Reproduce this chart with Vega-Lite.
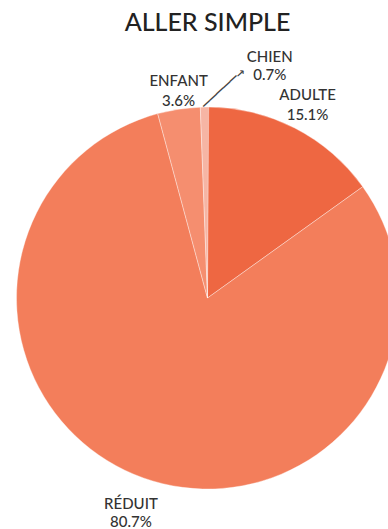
{
  "$schema": "https://vega.github.io/schema/vega-lite/v6.json",
  "autosize": "none",
  "width": 415,
  "height": 496,
  "padding": {"top": 50, "left": 0, "right": 0, "bottom": 0},
  "background": "white",
  "title": {"text": "ALLER SIMPLE", "font": "Lato", "fontSize": 25, "fontWeight": 500, "color": "#222222", "anchor": "middle", "offset": 14},
  "data": {"values": [
    {"categorie": "ADULTE", "part": 15.1, "rang": 1},
    {"categorie": "RÉDUIT", "part": 80.7, "rang": 2},
    {"categorie": "ENFANT", "part": 3.6, "rang": 3},
    {"categorie": "CHIEN", "part": 0.7, "rang": 4}
  ]},
  "transform": [
    {"stack": "part", "groupby": [], "sort": [{"field": "rang", "order": "ascending"}], "as": ["debut", "fin"]},
    {"calculate": "(datum.debut + datum.fin) / 2", "as": "milieu"},
    {"calculate": "datum.categorie + '\\n' + format(datum.part, '.1f') + '%'", "as": "etiquette"}
  ],
  "layer": [
    {
      "mark": {"type": "arc", "outerRadius": 191, "stroke": "#ffffff", "strokeWidth": 0.6, "strokeOpacity": 0.6},
      "encoding": {
        "theta": {"field": "debut", "type": "quantitative", "stack": null, "scale": {"domain": [0, 100]}},
        "theta2": {"field": "fin"},
        "color": {"field": "categorie", "type": "nominal", "legend": null,
          "scale": {"domain": ["ADULTE", "RÉDUIT", "ENFANT", "CHIEN"], "range": ["#EE6742", "#F37E5B", "#F58E6F", "#F6B5A4"]}}
      }
    },
    {
      "transform": [{"filter": "datum.categorie == 'ADULTE'"}],
      "mark": {"type": "text", "radius": 219, "dx": 0, "dy": -8, "font": "Lato", "fontSize": 15, "fontWeight": 500, "lineBreak": "\n", "lineHeight": 20, "color": "#333333", "align": "center", "baseline": "middle"},
      "encoding": {"theta": {"field": "milieu", "type": "quantitative", "stack": null}, "text": {"field": "etiquette"}}
    },
    {
      "transform": [{"filter": "datum.categorie == 'ENFANT'"}],
      "mark": {"type": "text", "radius": 219, "dx": 4, "font": "Lato", "fontSize": 15, "fontWeight": 500, "lineBreak": "\n", "lineHeight": 20, "color": "#333333", "align": "center", "baseline": "middle"},
      "encoding": {"theta": {"field": "milieu", "type": "quantitative", "stack": null}, "text": {"field": "etiquette"}}
    },
    {
      "transform": [{"filter": "datum.categorie == 'RÉDUIT'"}],
      "mark": {"type": "text", "radius": 219, "dx": -3, "font": "Lato", "fontSize": 15, "fontWeight": 500, "lineBreak": "\n", "lineHeight": 18, "color": "#333333", "align": "center", "baseline": "middle"},
      "encoding": {"theta": {"field": "milieu", "type": "quantitative", "stack": null}, "text": {"field": "etiquette"}}
    },
    {
      "transform": [{"filter": "datum.categorie == 'CHIEN'"}],
      "mark": {"type": "text", "radius": 236, "dx": 66, "dy": -5, "font": "Lato", "fontSize": 15, "fontWeight": 500, "lineBreak": "\n", "lineHeight": 18, "color": "#333333", "align": "center", "baseline": "middle"},
      "encoding": {"theta": {"field": "milieu", "type": "quantitative", "stack": null}, "text": {"field": "etiquette"}}
    },
    {
      "transform": [{"filter": "datum.categorie == 'CHIEN'"}],
      "mark": {"type": "text", "radius": 210, "dx": 14, "dy": 13, "font": "DejaVu Sans Mono", "fontSize": 15, "angle": -42.8, "color": "#444444", "align": "center", "baseline": "middle"},
      "encoding": {"theta": {"field": "milieu", "type": "quantitative", "stack": null}, "text": {"value": "─────→"}}
    }
  ]
}
